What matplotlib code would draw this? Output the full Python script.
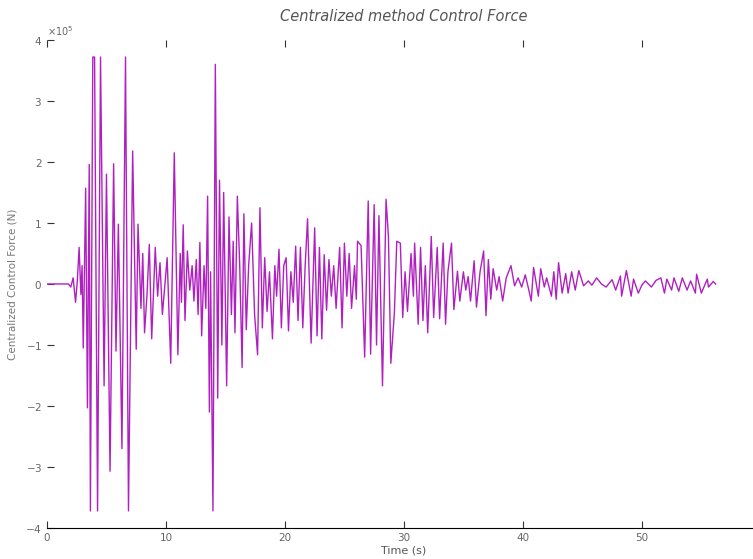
import numpy as np
import matplotlib
matplotlib.use("Agg")
import matplotlib.pyplot as plt
from matplotlib.ticker import ScalarFormatter

# control force, in units of 1e5 N, split by 10 s
seg1_t = [0.0, 1.8, 2.0, 2.2, 2.4, 2.55, 2.7, 2.85, 2.95, 3.05, 3.25, 3.4, 3.55, 3.65,
          3.85, 4.0, 4.25, 4.5, 4.8, 5.0, 5.3, 5.6, 5.8, 6.0, 6.3, 6.6, 6.85, 7.2, 7.5,
          7.65, 7.9, 8.05, 8.2, 8.4, 8.6, 8.8, 9.1, 9.3, 9.5, 9.7]
seg1_v = [0.0, 0.0, -0.05, 0.1, -0.3, 0.05, 0.6, -0.17, 0.3, -1.05, 1.57, -2.03, 1.96, -3.72,
          3.72, 3.72, -3.72, 3.72, -1.67, 1.8, -3.07, 1.97, -1.1, 0.98, -2.7, 3.72, -3.72, 2.18, -1.07,
          0.98, -0.4, 0.5, -0.8, -0.2, 0.65, -0.9, 0.6, -0.2, 0.35, -0.5]

seg2_t = [10.1, 10.4, 10.7, 11.0, 11.2, 11.3, 11.45, 11.6, 11.8, 12.0, 12.2, 12.35, 12.55,
          12.7, 12.85, 13.0, 13.2, 13.35, 13.5, 13.65, 13.75, 13.95, 14.15, 14.35, 14.5, 14.7,
          14.85, 15.1, 15.3, 15.5, 15.65, 15.8, 16.0, 16.2, 16.4, 16.55, 16.75, 16.95, 17.2,
          17.45, 17.7, 17.9, 18.1, 18.3, 18.5, 18.7, 18.95, 19.15, 19.3, 19.5, 19.7, 19.9]
seg2_v = [0.43, -1.3, 2.15, -1.16, 0.5, -0.3, 0.97, -0.6, 0.54, -0.1, 0.3, -0.28, 0.4,
          -0.5, 0.68, -0.85, 0.3, -0.4, 1.44, -2.1, 0.2, -3.72, 3.6, -1.87, 1.7, -1.0,
          1.5, -1.67, 1.1, -0.5, 0.7, -0.8, 1.44, 0.3, -1.37, 1.15, -0.75, 0.3, 1.0,
          -0.5, -1.16, 1.25, -0.72, 0.43, -0.45, 0.2, -0.9, 0.3, -0.2, 0.57, -0.72, 0.3]

seg3_t = [20.1, 20.3, 20.5, 20.7, 20.9, 21.1, 21.3, 21.5, 21.7, 21.9, 22.2, 22.5, 22.7,
          22.9, 23.1, 23.3, 23.5, 23.7, 23.9, 24.1, 24.3, 24.6, 24.8, 25.0, 25.2, 25.4,
          25.6, 25.85, 26.0, 26.1, 26.4, 26.7, 27.0, 27.2, 27.5, 27.7, 27.9, 28.2, 28.5,
          28.7, 28.9, 29.2, 29.4, 29.7, 29.9]
seg3_v = [0.43, -0.77, 0.2, -0.3, 0.62, -0.6, 0.6, -0.72, 0.3, 1.07, -0.97, 0.92, -0.85,
          0.6, -0.9, 0.48, -0.43, 0.4, -0.2, 0.3, -0.4, 0.6, -0.72, 0.67, -0.2, 0.5,
          -0.4, 0.3, -0.25, 0.7, 0.63, -1.2, 1.36, -1.15, 1.3, -1.0, 1.12, -1.67, 1.39,
          0.77, -1.3, -0.47, 0.7, 0.67, -0.55]

seg4_t = [30.1, 30.3, 30.6, 30.8, 30.9, 31.2, 31.4, 31.6, 31.8, 32.0, 32.3, 32.5, 32.8,
          33.0, 33.3, 33.5, 33.7, 34.0, 34.2, 34.5, 34.7, 35.0, 35.2, 35.4, 35.6, 35.9,
          36.1, 36.4, 36.7, 36.9, 37.1, 37.3, 37.5, 37.8, 38.0, 38.3, 38.6, 39.0, 39.3,
          39.6, 39.9]
seg4_v = [0.2, -0.45, 0.5, -0.2, 0.67, -0.66, 0.6, -0.6, 0.3, -0.8, 0.78, -0.55, 0.6,
          -0.57, 0.67, -0.66, 0.2, 0.67, -0.42, 0.21, -0.28, 0.2, -0.1, 0.12, -0.28, 0.38,
          -0.38, 0.2, 0.54, -0.52, 0.4, -0.25, 0.25, -0.1, 0.12, -0.28, 0.1, 0.3, -0.03,
          0.1, -0.05]

seg5_t = [40.2, 40.5, 40.7, 40.9, 41.3, 41.5, 41.8, 42.0, 42.4, 42.6, 42.8, 43.0, 43.3,
          43.6, 43.8, 44.1, 44.4, 44.7, 45.1, 45.5, 45.8, 46.2, 46.6, 47.0, 47.5, 47.8,
          48.2, 48.3, 48.7, 49.1, 49.3, 49.7]
seg5_v = [0.15, -0.1, -0.28, 0.27, -0.2, 0.25, -0.05, 0.1, -0.2, 0.2, -0.25, 0.35, -0.15,
          0.17, -0.15, 0.2, -0.1, 0.22, -0.03, 0.05, -0.02, 0.1, 0.0, -0.05, 0.07, -0.1,
          0.13, -0.2, 0.22, -0.2, 0.08, -0.15]

seg6_t = [50.0, 50.3, 50.8, 51.2, 51.6, 51.9, 52.1, 52.5, 52.7, 53.1, 53.4, 53.8, 54.1,
          54.5, 54.6, 55.0, 55.5, 55.6, 56.0, 56.2]
seg6_v = [-0.02, 0.05, -0.05, 0.06, 0.1, -0.15, 0.08, -0.1, 0.1, -0.12, 0.1, -0.1, 0.05,
          -0.15, 0.16, -0.15, 0.08, -0.05, 0.04, 0.0]

time_s = np.array(seg1_t + seg2_t + seg3_t + seg4_t + seg5_t + seg6_t)
force = np.array(seg1_v + seg2_v + seg3_v + seg4_v + seg5_v + seg6_v) * 1e5

fig = plt.figure(figsize=(7.53, 5.59), dpi=100)
ax = fig.add_axes([0.0624, 0.0555, 0.948, 0.873])
ax.plot(time_s, force, color="#b020c0", lw=1.0)

ax.set_xlim(0, 60)
ax.set_ylim(-4e5, 4e5)
ax.set_xticks(np.arange(0, 60, 10))
ax.set_yticks(np.arange(-4, 5, 1) * 1e5)

fmt = ScalarFormatter(useMathText=True)
fmt.set_powerlimits((0, 0))
ax.yaxis.set_major_formatter(fmt)
ax.yaxis.offsetText.set_fontsize(7)
ax.yaxis.offsetText.set_color("#777777")

for side in ["top", "left", "right"]:
    ax.spines[side].set_visible(False)
ax.spines["bottom"].set_color("black")
ax.tick_params(direction="in", length=5, labelsize=7.5, labelcolor="#666666",
               top=True, right=True, color="#333333")

ax.set_title("Centralized method Control Force", fontstyle="italic", fontsize=10.5,
             color="#555555", pad=14)
ax.set_xlabel("Time (s)", fontsize=8, color="#555555", labelpad=2)
ax.set_ylabel("Centralized Control Force (N)", fontsize=7.5, color="#777777", labelpad=6)

fig.savefig("out.png", dpi=100)
